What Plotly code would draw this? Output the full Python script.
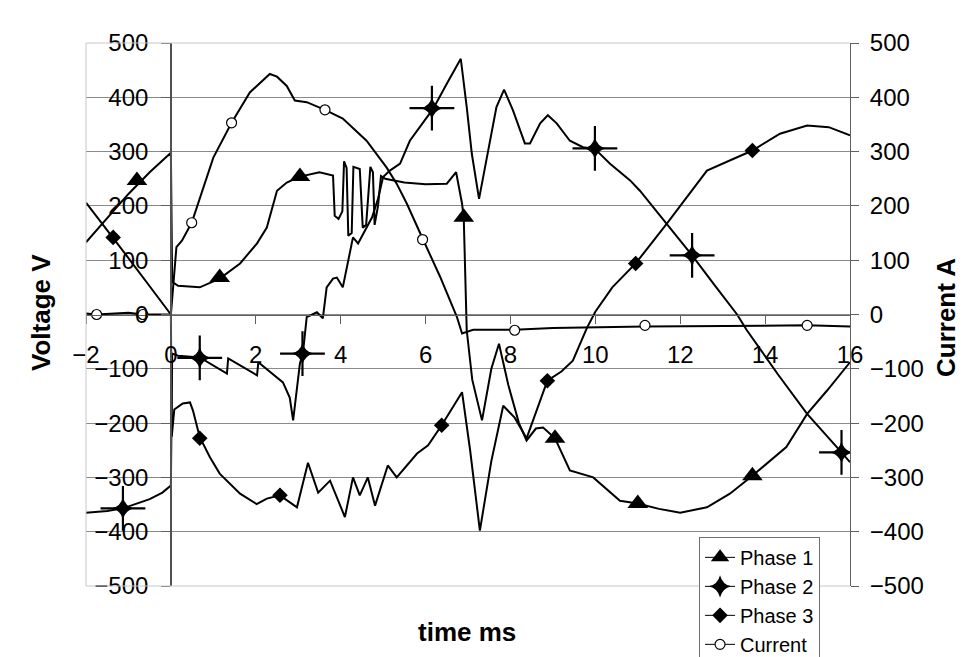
import plotly.graph_objects as go

# ---------------- data ----------------
p1_t = [-2, -1.5, -1, -0.5, 0, 0.03, 0.17, 0.68, 1.15, 1.63, 2.03, 2.26, 2.5, 2.73, 3.04, 3.5, 3.82,
        3.86, 3.95, 4.04, 4.08, 4.14, 4.18, 4.26, 4.3, 4.45, 4.52, 4.6, 4.7, 4.76, 4.8, 4.88, 4.95,
        5.05, 5.5, 6.0, 6.5, 6.72, 6.86, 6.9, 6.97, 7.1, 7.33, 7.55, 7.73, 7.95, 8.2, 8.38, 8.6,
        8.77, 9.05, 9.4, 9.95, 10.58, 11.0, 11.5, 12.0, 12.63, 13.17, 13.7, 14.1, 14.5, 14.99,
        15.46, 16]
p1_v = [133, 177, 222, 262, 298, 60, 53, 50, 66, 94, 131, 160, 228, 243, 254, 262, 256,
        182, 176, 190, 282, 270, 145, 150, 272, 268, 160, 165, 272, 262, 165, 200, 255,
        250, 243, 240, 241, 262, 204, 177, -29, -120, -195, -100, -54, -130, -200, -232, -210,
        -208, -228, -287, -300, -343, -348, -358, -365, -355, -330, -297, -270, -244, -183,
        -140, -88]

p2_t = [-2, -1.5, -1.13, -0.5, -0.2, 0, 0.03, 0.17, 0.68, 1.32, 1.35, 2.03, 2.06, 2.64, 2.8, 2.88,
        3.04, 3.11, 3.2, 3.44, 3.58, 3.67, 3.82, 3.91, 4.05, 4.29, 4.41, 4.62, 4.74, 4.88, 5.0,
        5.16, 5.4, 5.63, 6.18, 6.5, 6.83, 6.97, 7.09, 7.26, 7.47, 7.67, 7.85, 8.06, 8.34, 8.46,
        8.7, 8.88, 9.09, 9.4, 9.71, 9.99, 10.34, 10.82, 11.05, 11.68, 12.28, 12.8, 13.34, 13.57,
        14.3, 14.99, 15.4, 15.8, 16]
p2_v = [-365, -362, -357, -340, -328, -315, -72, -76, -79, -109, -81, -112, -88, -125, -153, -195,
        -90, -72, -5, 4, -7, 50, 66, 68, 50, 142, 131, 160, 179, 213, 253,
        265, 278, 320, 379, 425, 471, 382, 296, 213, 296, 382, 414, 376, 315, 315,
        352, 367, 352, 320, 308, 305, 278, 247, 228, 167, 109, 55, 0, -29,
        -110, -183, -220, -254, -272]

p3_t = [-2, -1.36, -1, -0.5, 0, 0.02, 0.08, 0.28, 0.45, 0.52, 0.68, 0.92, 1.15, 1.63, 2.02, 2.26,
        2.57, 2.97, 3.23, 3.47, 3.75, 4.1, 4.29, 4.45, 4.64, 4.81, 5.11, 5.32, 5.8, 6.06, 6.38,
        6.86, 7.05, 7.28, 7.55, 7.83, 8.1, 8.38, 8.87, 9.2, 9.47, 9.8, 10.0, 10.4, 10.95, 11.68,
        12.63, 13.7, 14.35, 14.99, 15.5, 16]
p3_v = [206, 142, 104, 52, 0, -225, -175, -164, -162, -177, -226, -263, -293, -330, -349, -339,
        -333, -355, -273, -328, -306, -373, -300, -333, -300, -352, -278, -300, -256, -241, -204,
        -143, -250, -398, -270, -168, -190, -228, -122, -105, -85, -25, 5, 50, 94, 167,
        265, 302, 333, 348, 345, 330]

cur_t = [-2, -1.75, -1, -0.66, 0, 0.13, 0.26, 0.49, 1.0, 1.43, 1.86, 2.26, 2.33, 2.5, 2.73, 2.92,
         3.2, 3.63, 4.05, 4.61, 5.08, 5.32, 5.56, 5.93, 6.34, 6.74, 6.86, 7.12, 8.1, 9.0, 11.17,
         14.99, 16]
cur_v = [2, 0, 3, 0, 0, 124, 136, 169, 289, 353, 409, 437, 443, 438, 421, 394,
         391, 377, 361, 320, 271, 241, 204, 140, 70, -5, -35, -28, -28, -25, -22,
         -20, -22]

# marker positions
p1_mt = [-0.8, 1.15, 3.04, 6.9, 9.05, 11.0, 13.7]
p1_mv = [247, 68, 254, 179, -228, -348, -297]
p2_mt = [-1.13, 0.68, 3.1, 6.15, 9.99, 12.28, 15.8]
p2_mv = [-357, -80, -72, 380, 306, 109, -254]
p3_mt = [-1.36, 0.68, 2.57, 6.38, 8.87, 10.95, 13.7]
p3_mv = [142, -228, -333, -204, -122, 94, 302]
cur_mt = [-1.75, -0.66, 0.49, 1.43, 3.63, 5.93, 8.1, 11.17, 14.99]
cur_mv = [0, 0, 169, 353, 377, 138, -29, -20, -20]

x_ticks = [-2, 0, 2, 4, 6, 8, 10, 12, 14, 16]
y_ticks = [-500, -400, -300, -200, -100, 0, 100, 200, 300, 400, 500]

FONT = "Arial, Liberation Sans, sans-serif"
LINE_W = 2.0

tri = dict(symbol="triangle-up", size=18, color="black")
star = dict(symbol="star-diamond", size=16, color="black")
star_arms = dict(symbol="cross-thin", size=32, color="black", line=dict(color="black", width=2.2))
dia = dict(symbol="diamond", size=12, color="black")
circ = dict(symbol="circle", size=10, color="white", line=dict(color="black", width=1.2))

series = [
    ("Phase 1", p1_t, p1_v, p1_mt, p1_mv, [tri], "y"),
    ("Phase 2", p2_t, p2_v, p2_mt, p2_mv, [star_arms, star], "y"),
    ("Phase 3", p3_t, p3_v, p3_mt, p3_mv, [dia], "y"),
    ("Current", cur_t, cur_v, cur_mt, cur_mv, [circ], "y2"),
]

fig = go.Figure()
for name, t, v, mt, mv, mks, ax in series:
    fig.add_trace(go.Scatter(x=t, y=v, mode="lines", yaxis=ax, showlegend=False,
                             line=dict(color="black", width=LINE_W), hoverinfo="skip"))
    for mk in mks:
        fig.add_trace(go.Scatter(x=mt, y=mv, mode="markers", yaxis=ax, showlegend=False,
                                 marker=mk, hoverinfo="skip"))
    lm = dict(mks[-1])
    fig.add_trace(go.Scatter(x=[None], y=[None], mode="lines+markers", name=name, yaxis=ax,
                             line=dict(color="black", width=1), marker=lm))

fig.update_layout(
    width=965, height=657,
    margin=dict(l=78, r=123, t=35, b=79, autoexpand=False),
    paper_bgcolor="white", plot_bgcolor="white",
    font=dict(family=FONT, color="black", size=24),
    xaxis=dict(range=[-2, 16], tickvals=x_ticks, showgrid=False, zeroline=False,
               anchor="free", position=0.5, showline=True, linecolor="#606060", linewidth=1,
               ticks="outside", ticklen=8, tickcolor="#606060", ticklabelstandoff=11,
               tickfont=dict(size=24, family=FONT), automargin=False),
    yaxis=dict(range=[-500, 500], tickvals=y_ticks, showgrid=True, gridcolor="#8a8a8a",
               gridwidth=1, zeroline=False, anchor="free", position=2 / 18,
               showline=True, linecolor="#505050", linewidth=1.5, ticks="outside", ticklen=9,
               tickcolor="#606060", ticklabelstandoff=8, tickfont=dict(size=24, family=FONT),
               automargin=False),
    yaxis2=dict(range=[-500, 500], tickvals=y_ticks, overlaying="y", side="right",
                anchor="free", position=1.0, showgrid=False, zeroline=False,
                showline=True, linecolor="#606060", linewidth=1, ticks="outside", ticklen=8,
                tickcolor="#606060", ticklabelstandoff=6, tickfont=dict(size=24, family=FONT),
                automargin=False),
    legend=dict(x=0.8024, y=0.0905, xanchor="left", yanchor="top",
                bgcolor="white", bordercolor="#707070", borderwidth=1,
                font=dict(size=20, family=FONT), itemsizing="trace", tracegroupgap=0),
    shapes=[
        dict(type="line", xref="paper", yref="paper", x0=0, x1=1, y0=1, y1=1,
             line=dict(color="#c8c8c8", width=1), layer="above"),
        dict(type="line", xref="paper", yref="paper", x0=0, x1=1, y0=0, y1=0,
             line=dict(color="#c8c8c8", width=1), layer="above"),
        dict(type="line", xref="paper", yref="paper", x0=0, x1=0, y0=0, y1=1,
             line=dict(color="#c8c8c8", width=1), layer="above"),
    ],
    annotations=[
        dict(text="<b>Voltage V</b>", xref="paper", yref="paper", x=-0.0589, y=0.5028,
             xanchor="center", yanchor="middle",
             textangle=-90, showarrow=False, font=dict(size=26, family=FONT)),
        dict(text="<b>Current A</b>", xref="paper", yref="paper", x=1.1257, y=0.4936,
             xanchor="center", yanchor="middle",
             textangle=-90, showarrow=False, font=dict(size=26, family=FONT)),
        dict(text="<b>time ms</b>", xref="paper", yref="paper", x=0.4987, y=-0.0847,
             xanchor="center", yanchor="middle",
             showarrow=False, font=dict(size=26, family=FONT)),
    ],
)

fig.write_html("out.html")
